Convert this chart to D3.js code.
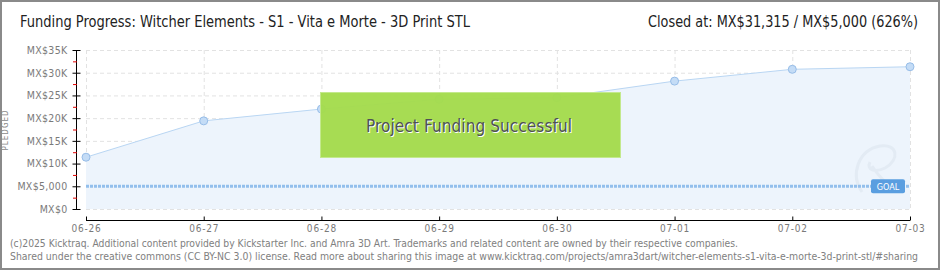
<!DOCTYPE html>
<html>
<head>
<meta charset="utf-8">
<script src="https://cdn.jsdelivr.net/npm/d3@7"></script>
<style>
  body { margin: 0; background: #fff; }
  svg { display: block; }
</style>
</head>
<body>
<div id="chart"></div>
<script>
const dates = ['06-26', '06-27', '06-28', '06-29', '06-30', '07-01', '07-02', '07-03'];
const pledged = [11400, 19400, 22000, 24150, 24500, 28150, 30750, 31315];
const goal = 5000;
const yTicks = [0, 5000, 10000, 15000, 20000, 25000, 30000, 35000];
const yTickLabels = ['MX$0', 'MX$5,000', 'MX$10K', 'MX$15K', 'MX$20K', 'MX$25K', 'MX$30K', 'MX$35K'];
const titleText = 'Funding Progress: Witcher Elements - S1 - Vita e Morte - 3D Print STL';
const closedText = 'Closed at:  MX$31,315 / MX$5,000 (626%)';
const footerLines = [
  '(c)2025 Kicktraq. Additional content provided by Kickstarter Inc. and Amra 3D Art. Trademarks and related content are owned by their respective companies.',
  'Shared under the creative commons (CC BY-NC 3.0) license. Read more about sharing this image at www.kicktraq.com/projects/amra3dart/witcher-elements-s1-vita-e-morte-3d-print-stl/#sharing'
];

const W = 940, H = 270;
const font = '"DejaVu Sans Condensed", "DejaVu Sans", sans-serif';

const svg = d3.select('#chart').append('svg')
  .attr('width', W)
  .attr('height', H);

// frame
svg.append('rect')
  .attr('x', 1).attr('y', 1)
  .attr('width', W - 2).attr('height', H - 2)
  .attr('fill', '#fff')
  .attr('stroke', '#8a8a8a')
  .attr('stroke-width', 2);

const x = d3.scalePoint()
  .domain(dates)
  .range([86, 910]);

const y = d3.scaleLinear()
  .domain([0, 35000])
  .range([209, 50]);

// grid
svg.append('g')
  .selectAll('line')
  .data(yTicks)
  .enter().append('line')
  .attr('x1', 86).attr('x2', 910)
  .attr('y1', d => y(d) + 0.5).attr('y2', d => y(d) + 0.5)
  .attr('stroke', '#e2e2e2')
  .attr('stroke-dasharray', '4,3');

svg.append('g')
  .selectAll('line')
  .data(dates)
  .enter().append('line')
  .attr('x1', d => x(d) + 0.5).attr('x2', d => x(d) + 0.5)
  .attr('y1', y(35000)).attr('y2', y(0))
  .attr('stroke', '#e2e2e2')
  .attr('stroke-dasharray', '4,3');

// area + line
const series = dates.map((d, i) => ({ date: d, value: pledged[i] }));

svg.append('path')
  .datum(series)
  .attr('fill', '#edf4fc')
  .attr('d', d3.area()
    .x(d => x(d.date))
    .y0(y(0))
    .y1(d => y(d.value)));

// faint watermark
svg.append('path')
  .attr('d', 'M862,192 C850,175 858,150 880,146 C898,143 900,160 885,168 C875,173 866,170 870,162 M872,166 C880,178 890,188 900,190')
  .attr('fill', 'none')
  .attr('stroke', '#e3ebf4')
  .attr('stroke-width', 3);

svg.append('path')
  .datum(series)
  .attr('fill', 'none')
  .attr('stroke', '#b9d6f3')
  .attr('stroke-width', 1)
  .attr('d', d3.line()
    .x(d => x(d.date))
    .y(d => y(d.value)));

svg.append('g')
  .selectAll('circle')
  .data(series)
  .enter().append('circle')
  .attr('cx', d => x(d.date))
  .attr('cy', d => y(d.value))
  .attr('r', 4)
  .attr('fill', '#c4dcf6')
  .attr('stroke', '#97bde8')
  .attr('stroke-width', 1);

// goal line
svg.append('line')
  .attr('x1', 86).attr('x2', 910)
  .attr('y1', y(goal)).attr('y2', y(goal))
  .attr('stroke', '#93bfec')
  .attr('stroke-width', 3)
  .attr('stroke-dasharray', '3,1');

const goalG = svg.append('g')
  .attr('transform', 'translate(871,' + (y(goal) - 7) + ')');
goalG.append('rect')
  .attr('width', 34).attr('height', 14)
  .attr('rx', 2)
  .attr('fill', '#5a9ee0');
goalG.append('text')
  .attr('x', 17).attr('y', 10.5)
  .attr('text-anchor', 'middle')
  .attr('font-family', font)
  .attr('font-size', 9)
  .attr('fill', '#fff')
  .text('GOAL');

// success box
const box = svg.append('g');
box.append('rect')
  .attr('x', 320.5).attr('y', 92.5)
  .attr('width', 300).attr('height', 65)
  .attr('fill', '#a5dc4e')
  .attr('stroke', '#c2e98a')
  .attr('stroke-width', 1)
  .attr('opacity', 0.97);
box.append('text')
  .attr('x', 470).attr('y', 133)
  .attr('text-anchor', 'middle')
  .attr('font-family', font)
  .attr('font-size', 17)
  .attr('fill', '#fff')
  .attr('textLength', 206)
  .text('Project Funding Successful');
box.append('text')
  .attr('x', 469).attr('y', 132)
  .attr('text-anchor', 'middle')
  .attr('font-family', font)
  .attr('font-size', 17)
  .attr('fill', '#4f5154')
  .attr('textLength', 206)
  .text('Project Funding Successful');

// y axis
const yAxis = d3.axisLeft(y)
  .tickValues(yTicks)
  .tickSize(5)
  .tickFormat((d, i) => yTickLabels[i]);

const yG = svg.append('g')
  .attr('transform', 'translate(76.5,0)')
  .call(yAxis);
yG.select('.domain').attr('stroke', '#000').attr('d', 'M0,' + y(35000) + 'V' + (y(0) + 1));
yG.selectAll('.tick line').attr('stroke', '#000').attr('x1', 4).attr('x2', -4);
yG.selectAll('.tick text')
  .attr('x', -9)
  .attr('font-family', font)
  .attr('font-size', 10.5)
  .attr('letter-spacing', 0.3)
  .attr('fill', '#7a7a7a');

// red minor ticks
svg.append('g')
  .selectAll('line')
  .data(yTicks.slice(0, -1))
  .enter().append('line')
  .attr('x1', 73).attr('x2', 77)
  .attr('y1', d => y(d + 2500) + 0.5).attr('y2', d => y(d + 2500) + 0.5)
  .attr('stroke', '#e00000');

svg.append('text')
  .attr('transform', 'translate(8,130) rotate(-90)')
  .attr('text-anchor', 'middle')
  .attr('font-family', font)
  .attr('font-size', 8)
  .attr('letter-spacing', 1)
  .attr('fill', '#8a8a8a')
  .text('PLEDGED');

// x axis
const xAxis = d3.axisBottom(x)
  .tickSize(-5)
  .tickPadding(4);

const xG = svg.append('g')
  .attr('transform', 'translate(0,220.5)')
  .call(xAxis);
xG.select('.domain').attr('stroke', '#000').attr('d', 'M86,0H910');
xG.selectAll('.tick line').attr('stroke', '#000').attr('y1', -4).attr('y2', 0);
xG.selectAll('.tick text')
  .attr('font-family', font)
  .attr('font-size', 10)
  .attr('letter-spacing', 0.8)
  .attr('fill', '#7a7a7a');

// title and status
svg.append('text')
  .attr('x', 20).attr('y', 27)
  .attr('font-family', font)
  .attr('font-size', 15)
  .attr('fill', '#222')
  .attr('textLength', 450)
  .attr('lengthAdjust', 'spacingAndGlyphs')
  .text(titleText);

svg.append('text')
  .attr('x', 918).attr('y', 27)
  .attr('text-anchor', 'end')
  .attr('font-family', font)
  .attr('font-size', 15)
  .attr('fill', '#222')
  .attr('textLength', 270)
  .attr('lengthAdjust', 'spacingAndGlyphs')
  .text(closedText);

// footer
svg.append('g')
  .selectAll('text')
  .data(footerLines)
  .enter().append('text')
  .attr('x', 10)
  .attr('y', (d, i) => 247 + i * 12.5)
  .attr('font-family', font)
  .attr('font-size', 10)
  .attr('fill', '#808080')
  .attr('textLength', (d, i) => i === 0 ? 728 : 908)
  .attr('lengthAdjust', 'spacingAndGlyphs')
  .text(d => d);
</script>
</body>
</html>
